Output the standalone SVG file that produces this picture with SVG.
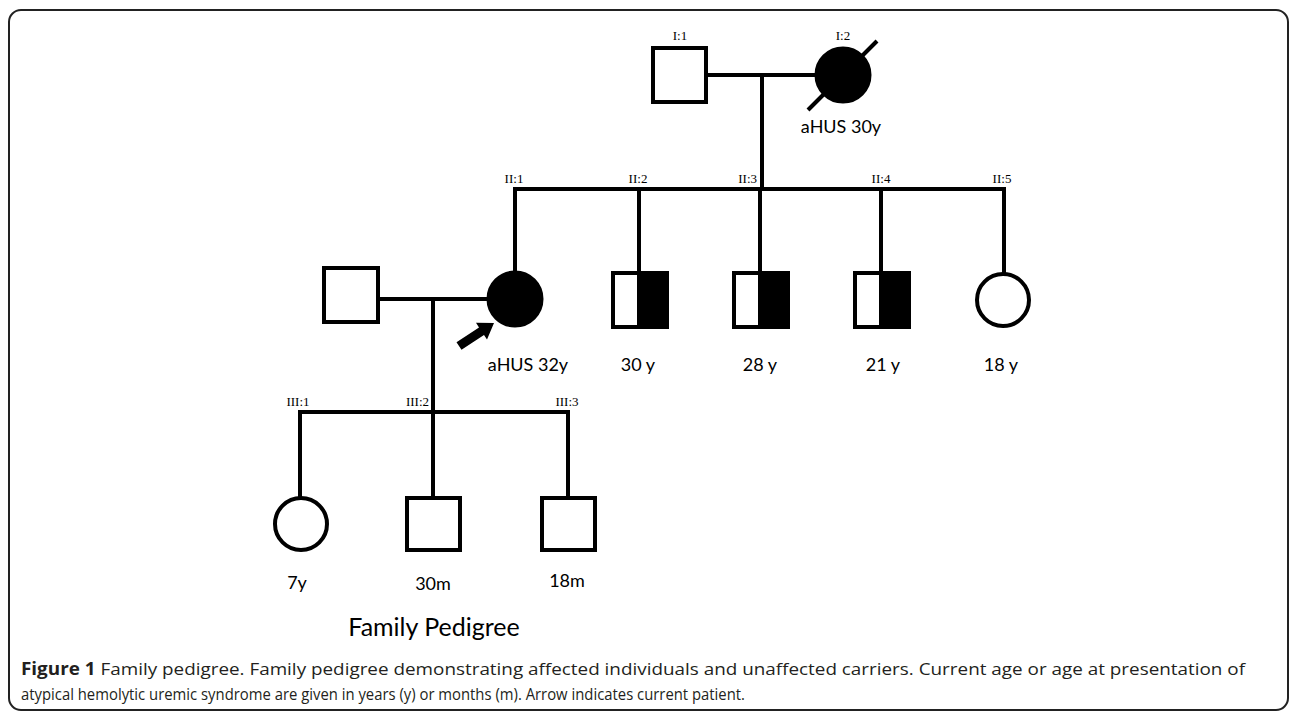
<svg xmlns="http://www.w3.org/2000/svg" width="1295" height="721" viewBox="0 0 1295 721">
<style>
.ln{stroke:#000;stroke-width:4;fill:none}
.sym{stroke:#000;stroke-width:4;fill:#fff}
.aff{stroke:#000;stroke-width:3;fill:#000}
.id{font-family:"Liberation Serif",serif;font-size:13px;fill:#000}
.lab{font-family:Lato,"Open Sans",sans-serif;font-size:18px;fill:#000;text-anchor:middle}
.cap{font-family:"Open Sans","Noto Sans",sans-serif;font-size:17px;fill:#231f20}
</style>
<rect x="9" y="10" width="1279" height="700" rx="12" fill="#fff" stroke="#222" stroke-width="2"/>
<g id="connectors">
<line class="ln" x1="706" y1="75" x2="815" y2="75"/>
<line class="ln" x1="762" y1="75" x2="762" y2="189"/>
<line class="ln" x1="513" y1="189" x2="1004" y2="189"/>
<line class="ln" x1="515" y1="187" x2="515" y2="272"/>
<line class="ln" x1="639" y1="189" x2="639" y2="273"/>
<line class="ln" x1="760" y1="189" x2="760" y2="273"/>
<line class="ln" x1="881" y1="189" x2="881" y2="273"/>
<line class="ln" x1="1004" y1="187" x2="1004" y2="273"/>
<line class="ln" x1="378" y1="299" x2="488" y2="299"/>
<line class="ln" x1="433" y1="299" x2="433" y2="412"/>
<line class="ln" x1="300" y1="412" x2="568" y2="412"/>
<line class="ln" x1="300" y1="410" x2="300" y2="497"/>
<line class="ln" x1="433" y1="412" x2="433" y2="498"/>
<line class="ln" x1="568" y1="410" x2="568" y2="498"/>
</g>
<g id="I1">
<rect class="sym" x="653" y="48" width="53" height="54"/>
<text class="id" x="680" y="40" text-anchor="middle">I:1</text>
</g>
<g id="I2">
<circle class="aff" cx="843" cy="75" r="27"/>
<line class="ln" x1="808" y1="110" x2="877" y2="41" stroke-width="3.5"/>
<text class="id" x="843" y="40" text-anchor="middle">I:2</text>
<text class="lab" x="841" y="133">aHUS 30y</text>
</g>
<g id="II1">
<circle class="aff" cx="515" cy="299" r="27"/>
<text class="id" x="514" y="183" text-anchor="middle">II:1</text>
<text class="lab" x="528" y="371">aHUS 32y</text>
<polygon points="456.5,342.2 479,327.4 476,322.8 494,323 487,339.6 484,335 461.5,349.8" fill="#000"/>
</g>
<g id="II1spouse">
<rect class="sym" x="324" y="268" width="54" height="54"/>
</g>
<g id="II2">
<rect class="sym" x="613" y="273" width="54" height="54"/>
<rect x="639" y="273" width="28" height="54" fill="#000" stroke="#000" stroke-width="4"/>
<text class="id" x="638" y="183" text-anchor="middle">II:2</text>
<text class="lab" x="638" y="371">30 y</text>
</g>
<g id="II3">
<rect class="sym" x="734" y="273" width="54" height="54"/>
<rect x="760" y="273" width="28" height="54" fill="#000" stroke="#000" stroke-width="4"/>
<text class="id" x="757" y="183" text-anchor="end">II:3</text>
<text class="lab" x="760" y="371">28 y</text>
</g>
<g id="II4">
<rect class="sym" x="855" y="273" width="54" height="54"/>
<rect x="881" y="273" width="28" height="54" fill="#000" stroke="#000" stroke-width="4"/>
<text class="id" x="881" y="183" text-anchor="middle">II:4</text>
<text class="lab" x="883" y="371">21 y</text>
</g>
<g id="II5">
<circle class="sym" cx="1003" cy="300" r="26"/>
<text class="id" x="1002" y="183" text-anchor="middle">II:5</text>
<text class="lab" x="1001" y="371">18 y</text>
</g>
<g id="III1">
<circle class="sym" cx="301" cy="524" r="26"/>
<text class="id" x="298" y="406" text-anchor="middle">III:1</text>
<text class="lab" x="297" y="589">7y</text>
</g>
<g id="III2">
<rect class="sym" x="407" y="498" width="53" height="52"/>
<text class="id" x="429" y="406" text-anchor="end">III:2</text>
<text class="lab" x="433" y="590">30m</text>
</g>
<g id="III3">
<rect class="sym" x="542" y="498" width="53" height="52"/>
<text class="id" x="567" y="406" text-anchor="middle">III:3</text>
<text class="lab" x="567" y="587">18m</text>
</g>
<text x="434" y="636" font-family="Lato,'Open Sans',sans-serif" font-size="25" fill="#000" text-anchor="middle">Family Pedigree</text>
<text class="cap" x="21" y="675" textLength="1224" lengthAdjust="spacingAndGlyphs"><tspan font-weight="bold">Figure 1</tspan> Family pedigree. Family pedigree demonstrating affected individuals and unaffected carriers. Current age or age at presentation of</text>
<text class="cap" x="21" y="700" textLength="724" lengthAdjust="spacingAndGlyphs">atypical hemolytic uremic syndrome are given in years (y) or months (m). Arrow indicates current patient.</text>
</svg>
